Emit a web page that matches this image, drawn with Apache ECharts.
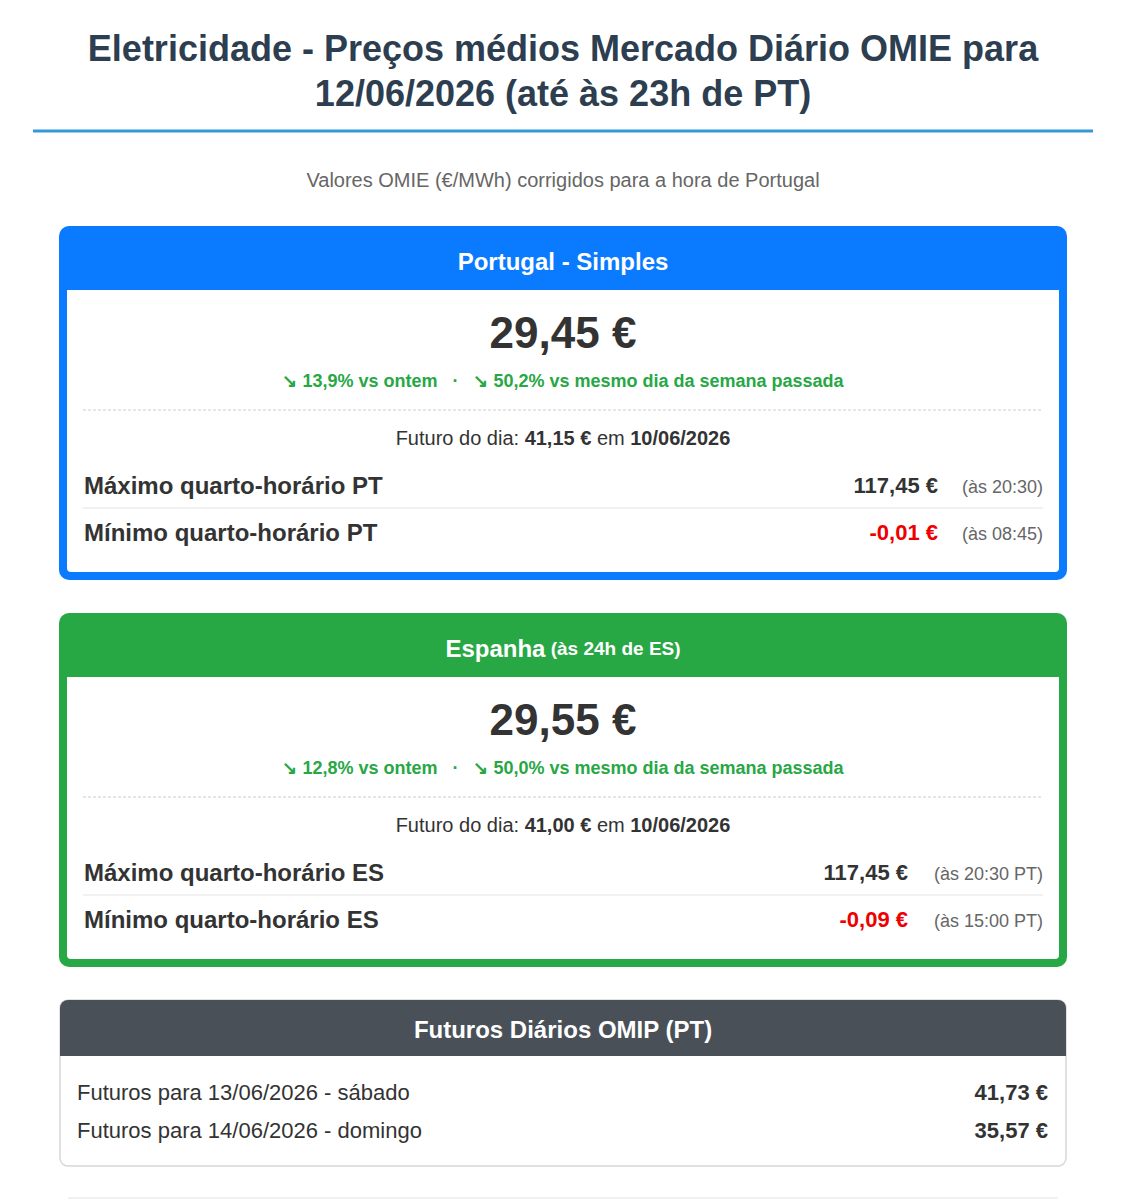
<!DOCTYPE html>
<html><head><meta charset="utf-8">
<script src="https://cdn.jsdelivr.net/npm/echarts@6/dist/echarts.min.js"></script>
<style>html,body{margin:0;padding:0;background:#fff}#c{width:1126px;height:1200px}</style>
</head><body><div id="c"></div>
<script>
const titleLines = ["Eletricidade - Preços médios Mercado Diário OMIE para", "12/06/2026 (até às 23h de PT)"];
const subtitle = "Valores OMIE (€/MWh) corrigidos para a hora de Portugal";
const regions = ["Portugal - Simples", "Espanha"];
const regionSuffix = ["", " (às 24h de ES)"];
const avgPrices = ["29,45 €", "29,55 €"];
const vsYesterday = ["↘ 13,9% vs ontem", "↘ 12,8% vs ontem"];
const vsWeek = ["↘ 50,2% vs mesmo dia da semana passada", "↘ 50,0% vs mesmo dia da semana passada"];
const futureDay = ["41,15 €", "41,00 €"];
const futureDate = "10/06/2026";
const maxLabels = ["Máximo quarto-horário PT", "Máximo quarto-horário ES"];
const maxValues = ["117,45 €", "117,45 €"];
const maxTimes = ["(às 20:30)", "(às 20:30 PT)"];
const minLabels = ["Mínimo quarto-horário PT", "Mínimo quarto-horário ES"];
const minValues = ["-0,01 €", "-0,09 €"];
const minTimes = ["(às 08:45)", "(às 15:00 PT)"];
const futTitle = "Futuros Diários OMIP (PT)";
const futLabels = ["Futuros para 13/06/2026 - sábado", "Futuros para 14/06/2026 - domingo"];
const futValues = ["41,73 €", "35,57 €"];

const F = "Arial, 'Liberation Sans', sans-serif";
const g = [];
function T(x,y,text,size,color,opts){
  g.push({type:'text',x:x,y:y,style:Object.assign({text:text,fontSize:size,fill:color,fontFamily:F,textAlign:'left',textVerticalAlign:'middle'},opts||{})});
}
T(563,48,titleLines[0],36,'#2c3e50',{fontWeight:'bold',textAlign:'center'});
T(563,93,titleLines[1],36,'#2c3e50',{fontWeight:'bold',textAlign:'center'});
g.push({type:'rect',shape:{x:33,y:129.5,width:1060,height:3},style:{fill:'#3498db'}});
T(563,180,subtitle,20,'#666',{textAlign:'center'});

const colors = ['#0a7bff','#28a745'];
[0,1].forEach(i=>{
  const o = i*387, c = colors[i];
  g.push({type:'rect',shape:{x:59,y:226+o,width:1008,height:354,r:10},style:{fill:c}});
  g.push({type:'rect',shape:{x:67,y:290+o,width:992,height:282,r:[0,0,4,4]},style:{fill:'#fff'}});
  g.push({type:'text',x:563,y:261+o,style:{textAlign:'center',textVerticalAlign:'middle',fontFamily:F,
    rich:{a:{fontSize:24,fontWeight:'bold',fill:'#fff',fontFamily:F},b:{fontSize:19,fontWeight:'bold',fill:'#fff',fontFamily:F}},
    text:'{a|'+regions[i]+'}'+(regionSuffix[i]?'{b|'+regionSuffix[i]+'}':'')}});
  T(563,332+o,avgPrices[i],44,'#333',{fontWeight:'bold',textAlign:'center'});
  T(563,381+o,vsYesterday[i]+'   ·   '+vsWeek[i],18,'#28a745',{fontWeight:'bold',textAlign:'center'});
  g.push({type:'line',shape:{x1:83,y1:410+o,x2:1043,y2:410+o},style:{stroke:'#c8ccd0',lineDash:[3,2],lineWidth:1}});
  g.push({type:'text',x:563,y:438+o,style:{textAlign:'center',textVerticalAlign:'middle',
    rich:{n:{fontSize:20,fill:'#333',fontFamily:F},b:{fontSize:20,fill:'#333',fontWeight:'bold',fontFamily:F}},
    text:'{n|Futuro do dia: }{b|'+futureDay[i]+'}{n| em }{b|'+futureDate+'}'}});
  const vx = i===0?938:908;
  T(84,485+o,maxLabels[i],24,'#333',{fontWeight:'bold'});
  T(vx,485+o,maxValues[i],22,'#333',{fontWeight:'bold',textAlign:'right'});
  T(1043,487+o,maxTimes[i],18,'#666',{textAlign:'right'});
  g.push({type:'line',shape:{x1:83,y1:508+o,x2:1043,y2:508+o},style:{stroke:'#e3e3e3',lineWidth:1}});
  T(84,532+o,minLabels[i],24,'#333',{fontWeight:'bold'});
  T(vx,532+o,minValues[i],22,'#e00',{fontWeight:'bold',textAlign:'right'});
  T(1043,534+o,minTimes[i],18,'#666',{textAlign:'right'});
});

g.push({type:'rect',shape:{x:60,y:1000,width:1006,height:166,r:8},style:{fill:'#fff',stroke:'#d8d8d8',lineWidth:1.5}});
g.push({type:'rect',shape:{x:60,y:1000,width:1006,height:56,r:[8,8,0,0]},style:{fill:'#495057'}});
T(563,1029,futTitle,24,'#fff',{fontWeight:'bold',textAlign:'center'});
futLabels.forEach((l,k)=>{
  T(77,1092+k*38,l,22,'#333');
  T(1048,1092+k*38,futValues[k],22,'#333',{fontWeight:'bold',textAlign:'right'});
});
g.push({type:'line',shape:{x1:68,y1:1198,x2:1058,y2:1198},style:{stroke:'#e3e3e3',lineWidth:1}});

const chart = echarts.init(document.getElementById('c'),null,{renderer:'svg'});
chart.setOption({animation:false,graphic:g});
</script></body></html>
